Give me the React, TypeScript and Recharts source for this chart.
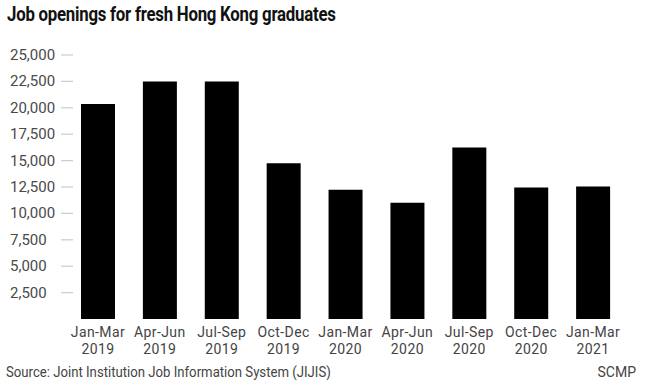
import React from "react";
import { BarChart, Bar, XAxis, YAxis } from "recharts";

const quarters = ["Jan-Mar", "Apr-Jun", "Jul-Sep", "Oct-Dec", "Jan-Mar", "Apr-Jun", "Jul-Sep", "Oct-Dec", "Jan-Mar"];
const years = ["2019", "2019", "2019", "2019", "2020", "2020", "2020", "2020", "2021"];
const openings = [20350, 22500, 22480, 14750, 12250, 11000, 16250, 12450, 12550];
const yTicks = [2500, 5000, 7500, 10000, 12500, 15000, 17500, 20000, 22500, 25000];

const data = quarters.map((q, i) => ({ name: `${q}|${years[i]}`, value: openings[i] }));

const FONT = "Roboto, 'Noto Sans', sans-serif";

function XTick(props: any) {
  const { x, y, payload } = props;
  const [q, yr] = String(payload.value).split("|");
  return (
    <g>
      <text x={x} y={y + 10} textAnchor="middle" fill="#444" fontSize={14} letterSpacing={0.4} fontFamily={FONT}>{q}</text>
      <text x={x} y={y + 26.5} textAnchor="middle" fill="#444" fontSize={14} letterSpacing={0.4} fontFamily={FONT}>{yr}</text>
    </g>
  );
}

function YTick(props: any) {
  const { y, payload } = props;
  return (
    <g>
      <line x1={61} x2={73} y1={y} y2={y} stroke="#cfcfcf" strokeWidth={1.3} />
      <text x={10} y={y} dy={5} textAnchor="start" fill="#4a4a4a" fontSize={15} fontFamily={FONT}>
        {Number(payload.value).toLocaleString("en-US")}
      </text>
    </g>
  );
}

export default function App() {
  return (
    <div style={{ position: "absolute", left: 0, top: 0, width: 650, height: 385, background: "#fff", fontFamily: FONT }}>
      <div
        style={{
          position: "absolute", left: 7, top: 2, fontSize: 21, fontWeight: 700, color: "#111",
          whiteSpace: "nowrap", letterSpacing: -0.3, transform: "scaleX(0.8)", transformOrigin: "left top",
        }}
      >
        Job openings for fresh Hong Kong graduates
      </div>
      <BarChart width={650} height={385} data={data} margin={{ top: 55, right: 26, bottom: 6, left: 0 }} barSize={34}>
        <XAxis dataKey="name" interval={0} tickLine={false} axisLine={false} height={60} tick={<XTick />} />
        <YAxis width={67} domain={[0, 25000]} ticks={yTicks} tickLine={false} axisLine={false} tick={<YTick />} />
        <Bar dataKey="value" fill="#000" isAnimationActive={false} />
      </BarChart>
      <div
        style={{
          position: "absolute", left: 6, top: 364, fontSize: 14, color: "#444", whiteSpace: "nowrap",
          transform: "scaleX(0.94)", transformOrigin: "left top",
        }}
      >
        Source: Joint Institution Job Information System (JIJIS)
      </div>
      <div style={{ position: "absolute", right: 14, top: 364, fontSize: 14, color: "#444" }}>SCMP</div>
    </div>
  );
}
